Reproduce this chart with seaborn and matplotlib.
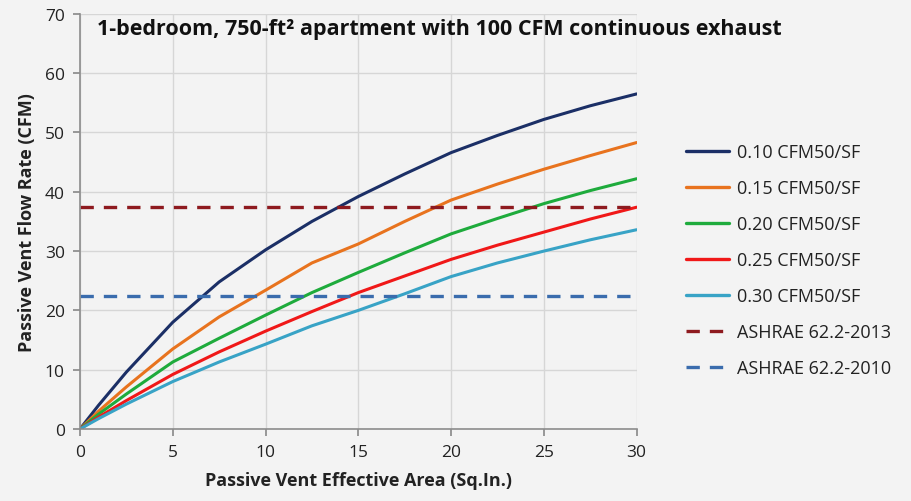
import pandas as pd
import seaborn as sns
import matplotlib
matplotlib.use("Agg")
import matplotlib.pyplot as plt
from matplotlib.lines import Line2D

# values
area = [0, 1, 2.5, 5, 7.5, 10, 12.5, 15, 17.5, 20, 22.5, 25, 27.5, 30]
cfm_010 = [0, 4.0, 9.6, 18.0, 24.8, 30.2, 35.0, 39.2, 43.0, 46.6, 49.5, 52.2, 54.5, 56.5]
cfm_015 = [0, 3.0, 7.1, 13.5, 18.9, 23.4, 28.0, 31.2, 35.0, 38.6, 41.3, 43.8, 46.1, 48.3]
cfm_020 = [0, 2.5, 5.9, 11.3, 15.3, 19.2, 23.0, 26.4, 29.7, 32.9, 35.5, 38.0, 40.2, 42.2]
cfm_025 = [0, 2.0, 4.8, 9.2, 13.0, 16.5, 19.8, 23.0, 25.8, 28.6, 31.0, 33.2, 35.4, 37.4]
cfm_030 = [0, 1.75, 4.2, 8.0, 11.3, 14.3, 17.4, 20.0, 22.8, 25.7, 28.0, 30.0, 31.9, 33.6]
series_names = ["0.10 CFM50/SF", "0.15 CFM50/SF", "0.20 CFM50/SF", "0.25 CFM50/SF", "0.30 CFM50/SF"]
series_colors = ["#1b2f66", "#e8731e", "#1eab3c", "#f01818", "#38a3c6"]
ashrae_2013 = 37.5
ashrae_2010 = 22.5

# long-form table for seaborn
rows = []
for name, vals in zip(series_names, [cfm_010, cfm_015, cfm_020, cfm_025, cfm_030]):
    for x, y in zip(area, vals):
        rows.append({"area": x, "flow": y, "series": name})
df = pd.DataFrame(rows)

sns.set_theme(style="whitegrid")
plt.rcParams['font.family'] = ['Open Sans', 'DejaVu Sans']
bg = "#f3f3f3"

fig = plt.figure(figsize=(9.11, 5.02), dpi=100, facecolor=bg)
ax = fig.add_axes([0.0878, 0.1434, 0.611, 0.827])
ax.set_facecolor(bg)

sns.lineplot(data=df, x="area", y="flow", hue="series", palette=series_colors,
             linewidth=2.2, ax=ax, legend=False)

ax.plot([0, 30], [ashrae_2013, ashrae_2013], color="#8e1a1f", lw=2.4, ls=(0, (4, 3)))
ax.plot([0, 30], [ashrae_2010, ashrae_2010], color="#3a6cad", lw=2.4, ls=(0, (4, 3)))

ax.set_xlim(0, 30)
ax.set_ylim(0, 70)
ax.set_xticks(range(0, 31, 5))
ax.set_yticks(range(0, 71, 10))
ax.grid(color="#d6d6d6", linewidth=1)
for side in ["top", "right"]:
    ax.spines[side].set_visible(False)
for side in ["left", "bottom"]:
    ax.spines[side].set_color("#8c8c8c")
    ax.spines[side].set_linewidth(1.2)
ax.tick_params(axis="both", direction="out", length=5, color="#8c8c8c",
               labelsize=12.5, labelcolor="#222222", pad=6)
ax.tick_params(axis="both", which="both", bottom=True, left=True)

ax.set_xlabel("Passive Vent Effective Area (Sq.In.)", fontsize=13, fontweight="bold", color="#222222", labelpad=8)
ax.set_ylabel("Passive Vent Flow Rate (CFM)", fontsize=13, fontweight="bold", color="#222222", labelpad=6)

ax.text(0.03, 0.99, "1-bedroom, 750-ft² apartment with 100 CFM continuous exhaust",
        transform=ax.transAxes, fontsize=15.5, fontweight="bold", color="#111111",
        va="top", ha="left")

# legend
handles = [Line2D([], [], color=c, lw=2.4) for c in series_colors]
handles.append(Line2D([], [], color="#8e1a1f", lw=2.4, ls=(0, (4, 3))))
handles.append(Line2D([], [], color="#3a6cad", lw=2.4, ls=(0, (4, 3))))
labels = series_names + ["ASHRAE 62.2-2013", "ASHRAE 62.2-2010"]
fig.legend(handles, labels, loc="center left", bbox_to_anchor=(0.735, 0.48),
           frameon=False, fontsize=13, labelspacing=1.0, handlelength=2.4,
           handletextpad=0.45, labelcolor="#222222")

plt.savefig("out.png", dpi=100, facecolor=bg)
